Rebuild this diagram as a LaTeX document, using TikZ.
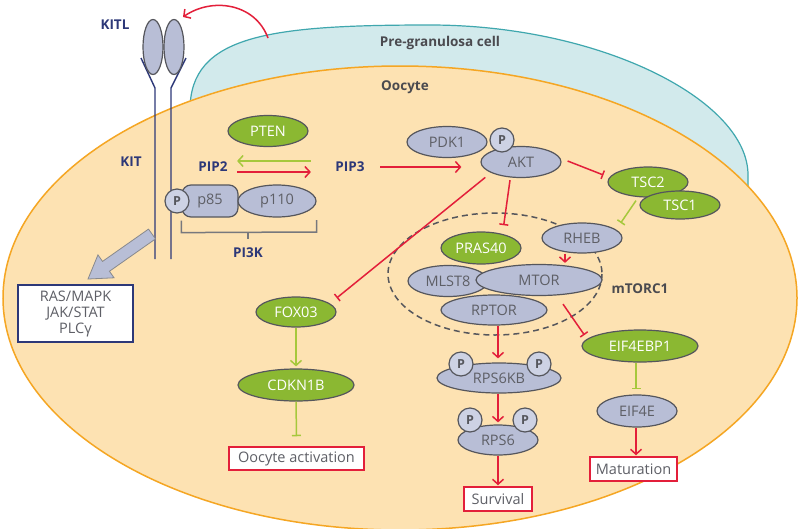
\documentclass[tikz,border=0pt]{standalone}
\usepackage{fontspec}
\setmainfont{Open Sans}
\usetikzlibrary{shapes.geometric,arrows.meta,calc}
\definecolor{peach}{HTML}{FDE2B2}
\definecolor{orangeb}{HTML}{F5A623}
\definecolor{cellblue}{HTML}{D2EAEC}
\definecolor{cellline}{HTML}{3FA7AE}
\definecolor{lav}{HTML}{B8BED6}
\definecolor{lavl}{HTML}{CDD2E4}
\definecolor{edgeg}{HTML}{55565C}
\definecolor{grn}{HTML}{8BB832}
\definecolor{lgrn}{HTML}{A6C83C}
\definecolor{rd}{HTML}{E31F3A}
\definecolor{navy}{HTML}{2D3878}
\definecolor{txtg}{HTML}{5E5F66}
\definecolor{darkt}{HTML}{4A4A4F}
\begin{document}
\begin{tikzpicture}[x=1pt,y=-1pt,
 prot/.style={ellipse, draw=edgeg, line width=1.2pt, fill=lav, text=txtg, inner sep=0pt,
   minimum width=80pt, minimum height=31pt, font=\fontsize{14.5}{16}\selectfont},
 gprot/.style={prot, fill=grn, text=white},
 pc/.style={circle, draw=edgeg, line width=1.2pt, fill=lavl, minimum size=24pt, inner sep=0pt,
   text=edgeg, font=\bfseries\fontsize{12.5}{14}\selectfont},
 obox/.style={rectangle, draw=rd, line width=1.5pt, fill=white, text=txtg, inner sep=0pt,
   font=\fontsize{14.5}{16}\selectfont},
 lab/.style={text=navy, font=\bfseries\fontsize{13.5}{15}\selectfont},
 dlab/.style={text=darkt, font=\bfseries\fontsize{13.5}{15}\selectfont},
 ract/.style={draw=rd, line width=1.5pt, -{Straight Barb[length=5pt,width=11pt]}},
 rinh/.style={draw=rd, line width=1.5pt, -{Bar[width=9pt]}},
 gact/.style={draw=lgrn, line width=1.5pt, -{Straight Barb[length=5pt,width=11pt]}},
 ginh/.style={draw=lgrn, line width=1.5pt, -{Bar[width=9pt]}},
 rline/.style={draw=navy, line width=1.4pt}
]
\fill[white] (0,0) rectangle (800,528);
\useasboundingbox (0,0) rectangle (800,528);

% cells
\filldraw[fill=cellblue, draw=cellline, line width=1.2pt]
  (190,110) .. controls (190,35) and (270,25) .. (430,25)
  .. controls (600,25) and (748,100) .. (748,175) -- (748,210) -- (400,250) -- cycle;
\filldraw[fill=peach, draw=orangeb, line width=1.5pt] (400,298) ellipse [x radius=397, y radius=232];
\node[dlab] (pgclab) at (440,43) {Pre-granulosa cell};
\node[dlab] (ooclab) at (405,87) {Oocyte};

% receptor
\draw[rline] (141,58) -- (155,88) -- (155,259);
\draw[rline] (186,58) -- (171,88) -- (171,259);
\node[ellipse, draw=edgeg, fill=lav, line width=1.2pt, minimum width=20pt, minimum height=55pt, inner sep=0pt] (kl1) at (153,47) {};
\node[ellipse, draw=edgeg, fill=lav, line width=1.2pt, minimum width=20pt, minimum height=55pt, inner sep=0pt] (kl2) at (174,47) {};
\node[lab] (kitl) at (115,25) {KITL};
\node[lab] (kit) at (131,162) {KIT};
\coordinate (kltip) at (183,17);
\coordinate (klsrc) at (268,38);
\draw[ract] (klsrc) .. controls (255,3) and (212,-3) .. (kltip);

% big arrow
\filldraw[fill=lav, draw=edgeg!70, line width=0.8pt]
  (155.5,238.9) -- (109.45,271.26) -- (114.05,277.8) -- (88,279) -- (97.95,254.9) -- (102.55,261.4) -- (148.5,229.1) -- cycle;
\node[rectangle, draw=navy, line width=1.5pt, fill=white, minimum width=115pt, minimum height=57pt, inner sep=0pt,
  align=center, text=txtg, font=\fontsize{14.5}{16}\selectfont] (ras) at (75.5,313.5) {RAS/MAPK\\JAK/STAT\\PLCγ};

% PI3K
\node[gprot] (pten) at (268,131) {PTEN};
\node[lab] (pip2) at (213,167) {PIP2};
\node[lab] (pip3) at (350,167) {PIP3};
\draw[gact] ($(pip3.west)+(-21,-6)$) -- ($(pip2.east)+(6,-6)$);
\draw[ract] ($(pip2.east)+(6,5)$) -- ($(pip3.west)+(-21,5)$);
\node[rectangle, rounded corners=9pt, draw=edgeg, fill=lav, line width=1.2pt, minimum width=56pt, minimum height=32pt,
  text=txtg, font=\fontsize{14.5}{16}\selectfont] (p85) at (210,201) {p85};
\node[prot, minimum width=78pt, minimum height=32pt] (p110) at (277,201) {p110};
\node[pc] (pp85) at (177,201) {P};
\draw[draw=edgeg!80, line width=1.5pt] ($(p85.south west)+(0,3)$) -- ++(0,12) -- ($(p110.east)+(0,31)$) -- ($(p110.east)+(0,19)$);
\draw[draw=edgeg!80, line width=1.5pt] (248,232) -- (248,239);
\node[lab] (pi3k) at (248,253) {PI3K};

% AKT
\node[prot] (pdk1) at (447,142) {PDK1};
\node[prot] (akt) at (521,162) {AKT};
\node[pc] (pakt) at (502,140) {P};
\draw[ract] ($(pip3.east)+(12,0)$) -- ($(akt.west)+(-19,5)$);

% TSC
\node[gprot, minimum height=30pt] (tsc2) at (648,182) {TSC2};
\node[gprot, minimum height=28pt] (tsc1) at (680,205) {TSC1};
\draw[rinh] ($(akt.east)+(6,-1)$) -- ($(tsc2.west)+(-4,-7)$);

% mTORC1
\draw[draw=edgeg, line width=1.5pt, dash pattern=on 6pt off 4pt] (495,274) ellipse [x radius=107, y radius=61];
\node[prot, minimum height=30pt] (rheb) at (582,238) {RHEB};
\draw[ginh] ($(tsc2.south)+(-12,3)$) -- ($(rheb.north east)+(10,-4)$);
\node[prot] (mlst8) at (448,281) {MLST8};
\node[prot, minimum width=126pt] (mtor) at (539,280) {MTOR};
\node[prot, minimum width=106pt, minimum height=30pt] (rptor) at (494,310) {RPTOR};
\node[gprot, minimum height=32pt] (pras) at (481,248) {PRAS40};
\node[dlab] (mtorc) at (640,289) {mTORC1};
\draw[rinh] ($(akt.south)+(-11,2)$) -- ($(pras.north east)+(-6,-11)$);
\draw[ract] ($(rheb.south)+(-17,0)$) -- ($(mtor.north)+(26,-1)$);

% FOXO3 branch
\node[gprot, minimum height=30pt] (fox) at (296,312) {FOX03};
\node[gprot, minimum width=116pt, minimum height=32pt] (cdk) at (296,385) {CDKN1B};
\node[obox, minimum width=135pt, minimum height=23pt] (oact) at (296.5,458.5) {Oocyte activation};
\draw[rinh] ($(akt.south west)+(-7,4)$) -- ($(fox.north east)+(12,-3)$);
\draw[gact] (fox.south) -- ($(cdk.north)+(0,-2)$);
\draw[ginh] (cdk.south) -- ($(oact.north)+(0,-10)$);

% S6K branch
\node[prot, minimum width=124pt, minimum height=30pt] (s6k) at (499,378) {RPS6KB};
\node[pc] (ps6k1) at (461,364) {P};
\node[pc] (ps6k2) at (539,364) {P};
\node[prot, minimum height=30pt] (s6) at (498,440) {RPS6};
\node[pc] (ps61) at (470,420) {P};
\node[pc] (ps62) at (525,420) {P};
\node[obox, minimum width=68pt, minimum height=24pt] (surv) at (498,499) {Survival};
\draw[ract] ($(rptor.south)+(4,0)$) -- ($(s6k.north)+(-1,-4)$);
\draw[ract] ($(s6k.south)+(-1,0)$) -- ($(s6.north)+(0,-2)$);
\draw[ract] (s6.south) -- ($(surv.north)+(0,-1)$);

% 4EBP1 branch
\node[gprot, minimum width=116pt, minimum height=32pt] (ebp) at (640,346) {EIF4EBP1};
\node[prot, minimum height=32pt] (eif) at (637,411) {EIF4E};
\node[obox, minimum width=87pt, minimum height=24pt] (mat) at (633.5,469) {Maturation};
\draw[rinh] ($(mtor.south)+(24,8)$) -- ($(ebp.west)+(3,-11)$);
\draw[ginh] ($(ebp.south)+(-4,0)$) -- ($(eif.north)+(-1,-5)$);
\draw[ract] ($(eif.south)+(-1,0)$) -- ($(mat.north)+(2.5,-1)$);
\end{tikzpicture}
\end{document}
